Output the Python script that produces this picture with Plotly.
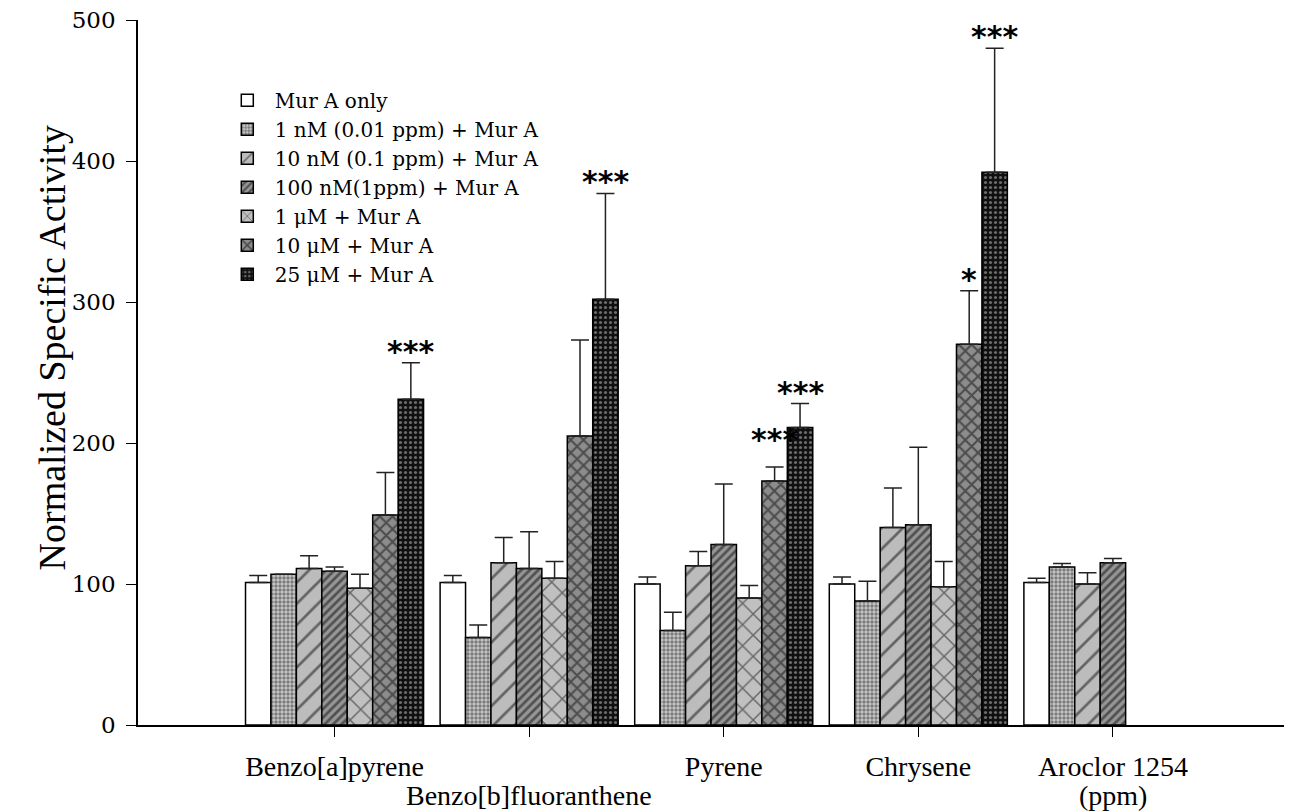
import plotly.graph_objects as go

# groups along x; Aroclor only has the first four treatments
groups = ["Benzo[a]pyrene", "Benzo[b]fluoranthene", "Pyrene", "Chrysene", "Aroclor 1254"]
tick_labels = ["Benzo[a]pyrene", "", "Pyrene", "Chrysene", "Aroclor 1254"]
# labels printed on a second line under the tick row
second_line = {1: "Benzo[b]fluoranthene", 4: "(ppm)"}

series_names = [
    "Mur A only",
    "1 nM (0.01 ppm) + Mur A",
    "10 nM (0.1 ppm) + Mur A",
    "100 nM(1ppm) + Mur A",
    "1 \u03bcM + Mur A",
    "10 \u03bcM + Mur A",
    "25 \u03bcM + Mur A",
]

mur_a_only = [101, 101, 100, 100, 101]
nm_1 = [107, 62, 67, 88, 112]
nm_10 = [111, 115, 113, 140, 100]
nm_100 = [109, 111, 128, 142, 115]
um_1 = [97, 104, 90, 98, None]
um_10 = [149, 205, 173, 270, None]
um_25 = [231, 302, 211, 392, None]

err_mur_a_only = [5, 5, 5, 5, 3]
err_nm_1 = [0, 9, 13, 14, 2.5]
err_nm_10 = [9, 18, 10, 28, 8]
err_nm_100 = [3, 26, 43, 55, 3]
err_um_1 = [10, 12, 9, 18, None]
err_um_10 = [30, 68, 10, 38, None]
err_um_25 = [26, 75, 17, 88, None]

values = [mur_a_only, nm_1, nm_10, nm_100, um_1, um_10, um_25]
errors = [err_mur_a_only, err_nm_1, err_nm_10, err_nm_100, err_um_1, err_um_10, err_um_25]

# significance marks: (group index, series index, text)
stars = [(0, 6, "***"), (1, 6, "***"), (2, 5, "***"), (2, 6, "***"),
         (3, 5, "*"), (3, 6, "***")]

patterns = [
    dict(shape=""),
    dict(shape=".", size=4, solidity=0.55, fgcolor="#2a2a2a", bgcolor="#cacaca"),
    dict(shape="/", size=15, solidity=0.18, fgcolor="#0a0a0a", bgcolor="#bcbcbc"),
    dict(shape="/", size=6, solidity=0.45, fgcolor="#0a0a0a", bgcolor="#969696"),
    dict(shape="x", size=15, solidity=0.18, fgcolor="#0a0a0a", bgcolor="#c0c0c0"),
    dict(shape="x", size=9, solidity=0.4, fgcolor="#0a0a0a", bgcolor="#8c8c8c"),
    dict(shape=".", size=5, solidity=0.3, fgcolor="#c8c8c8", bgcolor="#101010"),
]

bargap = 0.085
n_series = len(series_names)
bar_w = (1 - bargap) / n_series

fig = go.Figure()
x_pos = list(range(len(groups)))

for i, name in enumerate(series_names):
    fig.add_trace(
        go.Bar(
            x=x_pos,
            y=values[i],
            name=name,
            marker=dict(
                color="white",
                line=dict(color="black", width=1.5),
                pattern=patterns[i],
            ),
            error_y=dict(
                type="data",
                symmetric=False,
                array=errors[i],
                arrayminus=[0] * len(groups),
                color="#222",
                thickness=1.5,
                width=9,
            ),
        )
    )

for g, s, txt in stars:
    top = values[s][g] + errors[s][g]
    fig.add_annotation(
        x=g - (1 - bargap) / 2 + bar_w * (s + 0.5),
        y=top,
        text="<b>" + txt + "</b>",
        showarrow=False,
        yanchor="bottom",
        yshift=-8 if (g, s) != (2, 5) else 8,
        font=dict(family="DejaVu Sans", size=30, color="black"),
    )

for g, txt in second_line.items():
    fig.add_annotation(
        x=g, xref="x", y=0, yref="paper",
        text=txt, showarrow=False,
        yanchor="middle", yshift=-70,
        font=dict(family="Liberation Serif", size=28, color="black"),
    )

# y-axis title as rotated text, sits a bit above the middle of the axis
fig.add_annotation(
    x=-0.075, xref="paper", y=0.535, yref="paper",
    text="Normalized Specific Activity", textangle=-90,
    showarrow=False, xanchor="center", yanchor="middle",
    font=dict(family="Liberation Serif", size=38, color="black"),
)

# the page body adds an 8px offset, so the margins are shifted to compensate
fig.update_layout(
    width=1292,
    height=812,
    barmode="group",
    bargap=bargap,
    bargroupgap=0,
    plot_bgcolor="white",
    paper_bgcolor="white",
    margin=dict(l=130, r=10, t=12, b=95),
    showlegend=True,
    legend=dict(
        x=0.071,
        y=0.914,
        xanchor="left",
        yanchor="top",
        font=dict(family="DejaVu Serif", size=20, color="black"),
        bgcolor="rgba(0,0,0,0)",
        traceorder="normal",
        itemwidth=45,
        tracegroupgap=0,
    ),
    font=dict(family="DejaVu Serif", color="black"),
)

fig.update_xaxes(
    range=[-1.01, 4.91],
    tickmode="array",
    tickvals=x_pos,
    ticktext=tick_labels,
    tickangle=0,
    automargin=False,
    ticks="outside",
    ticklen=10,
    ticklabelstandoff=6,
    tickcolor="black",
    showline=True,
    linecolor="black",
    linewidth=1.5,
    showgrid=False,
    zeroline=False,
    tickfont=dict(family="Liberation Serif", size=28, color="black"),
)

fig.update_yaxes(
    range=[0, 500],
    tickvals=[0, 100, 200, 300, 400, 500],
    automargin=False,
    ticklabeloverflow="allow",
    ticks="outside",
    ticklen=10,
    ticklabelstandoff=6,
    tickcolor="black",
    showline=True,
    linecolor="black",
    linewidth=1.5,
    showgrid=False,
    zeroline=False,
    tickfont=dict(family="DejaVu Serif", size=23, color="black"),
)

fig.write_html("out.html")
